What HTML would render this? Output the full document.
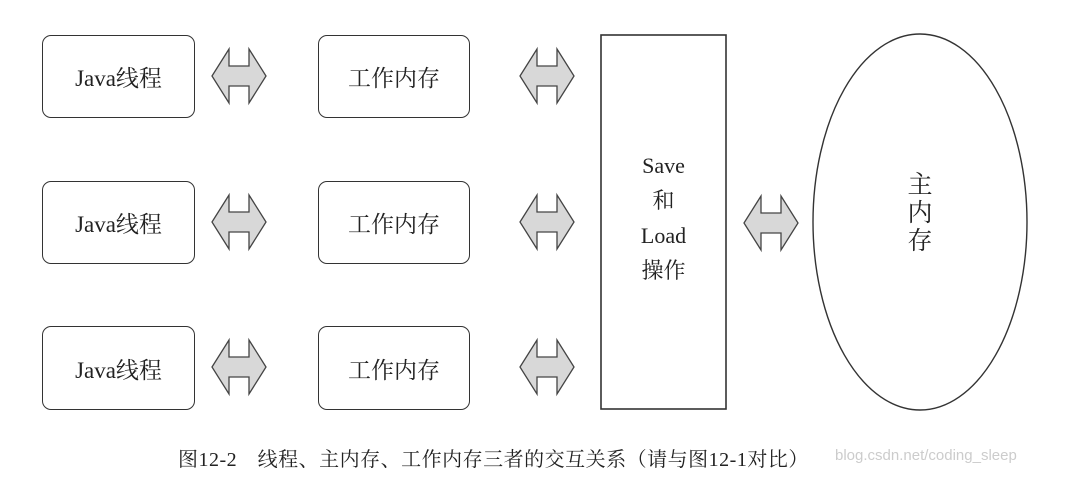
<!DOCTYPE html>
<html><head><meta charset="utf-8"><style>
body{margin:0;background:#fff;width:1068px;height:478px;overflow:hidden;position:relative;font-family:"Liberation Serif","Noto Serif CJK SC",serif;color:#222}
.b{position:absolute;border:1.5px solid #333;border-radius:9px;box-sizing:border-box;display:flex;align-items:center;justify-content:center;font-size:23px}
</style></head><body>
<svg width="1068" height="478" style="position:absolute;left:0;top:0">
<defs><polygon id="ar" points="0,27 17,0 17,17 37,17 37,0 54,27 37,54 37,37 17,37 17,54" fill="#d8d8d8" stroke="#444" stroke-width="1.3"/></defs>
<use href="#ar" x="212" y="49"/><use href="#ar" x="520" y="49"/>
<use href="#ar" x="212" y="195"/><use href="#ar" x="520" y="195"/>
<use href="#ar" x="212" y="340"/><use href="#ar" x="520" y="340"/>
<use href="#ar" x="744" y="196"/>
<rect x="601" y="35" width="125" height="374" fill="none" stroke="#333" stroke-width="1.6"/>
<ellipse cx="920" cy="222" rx="107" ry="188" fill="none" stroke="#333" stroke-width="1.4"/>
</svg>
<div class="b" style="left:42px;top:35px;width:153px;height:83px">Java线程</div>
<div class="b" style="left:318px;top:35px;width:152px;height:83px">工作内存</div>
<div class="b" style="left:42px;top:181px;width:153px;height:83px">Java线程</div>
<div class="b" style="left:318px;top:181px;width:152px;height:83px">工作内存</div>
<div class="b" style="left:42px;top:326px;width:153px;height:84px">Java线程</div>
<div class="b" style="left:318px;top:326px;width:152px;height:84px">工作内存</div>
<div style="position:absolute;left:601px;top:148px;width:125px;text-align:center;font-size:22px;line-height:35px">Save<br>和<br>Load<br>操作</div>
<div style="position:absolute;left:900px;top:172px;width:40px;text-align:center;font-size:25px;line-height:28px">主<br>内<br>存</div>
<div style="position:absolute;left:0;top:443px;width:1068px;font-size:20px;white-space:nowrap"><span style="position:absolute;left:178px;letter-spacing:0.5px">图12-2　线程、主内存、工作内存三者的交互关系（请与图12-1对比）</span><span style="position:absolute;left:835px;top:4px;font-family:'Liberation Sans',sans-serif;font-size:15px;color:#ccc">blog.csdn.net/coding_sleep</span></div>
</body></html>
